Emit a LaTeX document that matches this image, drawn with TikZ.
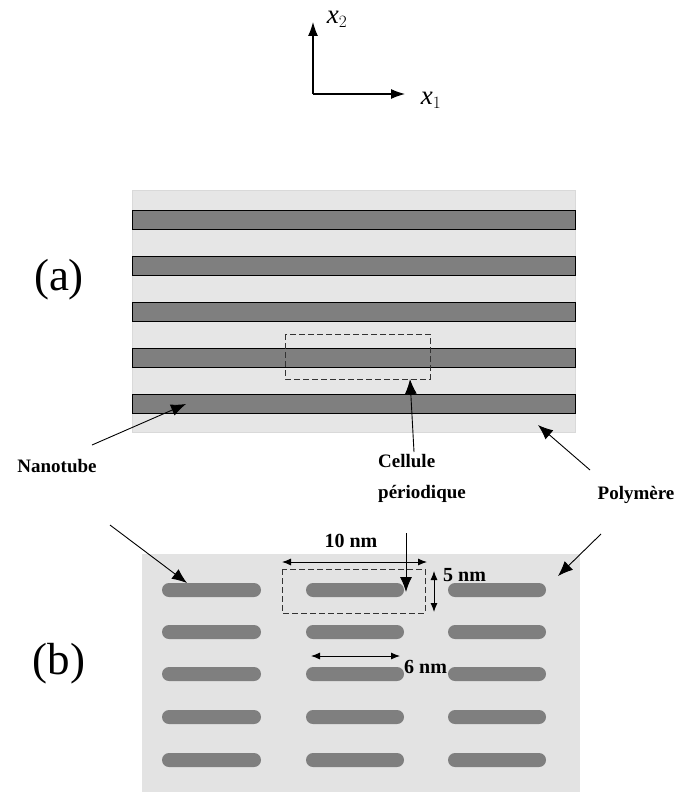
\documentclass[tikz,border=0pt]{standalone}
\usepackage{fontspec}
\setmainfont{Liberation Serif}
\usetikzlibrary{arrows.meta}
\definecolor{bga}{HTML}{E6E6E6}
\definecolor{bgb}{HTML}{E3E3E3}
\definecolor{tube}{HTML}{7F7F7F}
\tikzset{
  stripe/.style={fill=tube,draw=black,line width=0.9pt},
  pill/.style={draw=none,fill=tube,rounded corners=7pt},
  lbl/.style={font=\fontsize{19}{20}\selectfont\bfseries,inner sep=1pt},
  dim/.style={font=\fontsize{20}{21}\selectfont\bfseries,inner sep=1pt},
  big/.style={font=\fontsize{45}{45}\selectfont,inner sep=0pt},
  axl/.style={font=\fontsize{27}{27}\selectfont\itshape,inner sep=0pt},
  point/.style={line width=0.9pt,-{Latex[length=15pt,width=12pt]}},
  dimarr/.style={line width=0.9pt,{Latex[length=9pt,width=7pt]}-{Latex[length=9pt,width=7pt]}},
  cell/.style={draw=black!80,line width=0.9pt,dash pattern=on 6pt off 3pt}
}
\begin{document}
\begin{tikzpicture}[x=1pt,y=-1pt]
\useasboundingbox (0,0) rectangle (679,792);
% axes
\coordinate (o) at (313,94);
\coordinate (e2) at (313,22);
\coordinate (e1) at (405,94);
\draw[line width=1.1pt,-{Latex[length=14pt,width=10pt]}] (o) -- (e2);
\draw[line width=1.1pt,-{Latex[length=14pt,width=10pt]}] (o) -- (e1);
\node[axl] (x2) at (337,19) {x$_2$};
\node[axl] (x1) at (431,100) {x$_1$};
% panel (a)
\node[big] (la) at (59,280) {(a)};
\fill[bga,draw=black!15] (132,190) rectangle (575,432);
\foreach \y in {210,256,302,348,394} {
  \draw[stripe] (132,\y) rectangle (575,\y+19);
}
\draw[cell] (285,334) rectangle (430,379);
% labels
\node[lbl] (nano) at (57,466) {Nanotube};
\node[lbl,anchor=west] (cell1) at (377,461) {Cellule};
\node[lbl,anchor=west] (cell2) at (377,494) {périodique};
\node[lbl] (poly) at (636,495) {Polymère};
\coordinate (nA1) at (92,445);
\coordinate (nA2) at (186,404);
\coordinate (cA1) at (414,452);
\coordinate (cA2) at (410,379);
\coordinate (pA1) at (590,470);
\coordinate (pA2) at (538,425);
\draw[point] (nA1) -- (nA2);
\draw[point] (cA1) -- (cA2);
\draw[point] (pA1) -- (pA2);
% panel (b)
\fill[bgb] (142,554) rectangle (580,792);
\node[big] (lb) at (59,664) {(b)};
\foreach \y in {590,632,674,717,760} {
  \fill[pill] (162,\y-7) rectangle (261,\y+7);
  \fill[pill] (306,\y-7) rectangle (404,\y+7);
  \fill[pill] (448,\y-7) rectangle (546,\y+7);
}
\draw[cell] (282,569) rectangle (425,613);
\coordinate (nB1) at (110,525);
\coordinate (nB2) at (187,583);
\coordinate (pB1) at (601,534);
\coordinate (pB2) at (558,576);
\draw[point] (nB1) -- (nB2);
\draw[point] (pB1) -- (pB2);
\coordinate (d1) at (406,533);
\coordinate (d2) at (406,592);
\draw[point] (d1) -- (d2);
% dimensions
\coordinate (t1) at (282,562);
\coordinate (t2) at (427,562);
\draw[dimarr] (t1) -- (t2);
\node[dim] (ten) at (351,541) {10 nm};
\coordinate (f1) at (434,571);
\coordinate (f2) at (434,612);
\draw[dimarr] (f1) -- (f2);
\node[dim,anchor=west] (five) at (442,575) {5 nm};
\coordinate (s1) at (311,656);
\coordinate (s2) at (400,656);
\draw[dimarr] (s1) -- (s2);
\node[dim,anchor=west] (six) at (403,667) {6 nm};
\end{tikzpicture}
\end{document}
